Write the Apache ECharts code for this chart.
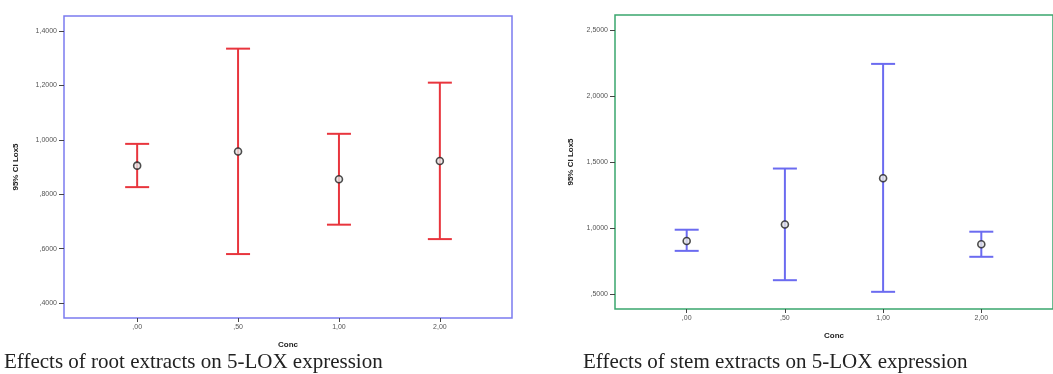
<!DOCTYPE html>
<html><head><meta charset="utf-8">
<script src="https://cdn.jsdelivr.net/npm/echarts@6/dist/echarts.min.js"></script>
<style>html,body{margin:0;padding:0;background:#fff}#c{width:1053px;height:374px}</style>
</head><body><div id="c"></div>
<script>
// ---- data ----
const catPositions = [0, 1, 2, 3];
const catLabels = [',00', ',50', '1,00', '2,00'];

const rootMean  = [0.905, 0.957, 0.855, 0.922];
const rootLower = [0.826, 0.580, 0.688, 0.635];
const rootUpper = [0.985, 1.335, 1.022, 1.210];

const stemMean  = [0.905, 1.030, 1.380, 0.880];
const stemLower = [0.830, 0.608, 0.520, 0.785];
const stemUpper = [0.990, 1.453, 2.245, 0.975];

const rootTickValues = [0.4, 0.6, 0.8, 1.0, 1.2, 1.4];
const rootTickLabels = [',4000', ',6000', ',8000', '1,0000', '1,2000', '1,4000'];
const stemTickValues = [0.5, 1.0, 1.5, 2.0, 2.5];
const stemTickLabels = [',5000', '1,0000', '1,5000', '2,0000', '2,5000'];

const yTitle = '95% CI Lox5';
const xTitle = 'Conc';
const rootCaption = 'Effects of root extracts on 5-LOX expression';
const stemCaption = 'Effects of stem extracts on 5-LOX expression';

// ---- chart ----
const chart = echarts.init(document.getElementById('c'), null, {renderer: 'canvas'});

function labelFrom(values, labels) {
  return function (v) {
    for (let i = 0; i < values.length; i++) if (Math.abs(values[i] - v) < 1e-6) return labels[i];
    return '';
  };
}

function errRender(color) {
  return function (params, api) {
    const x = api.value(0), lo = api.value(1), hi = api.value(2);
    const a = api.coord([x, lo]), b = api.coord([x, hi]);
    const hw = 12;
    const st = {stroke: color, lineWidth: 2};
    return {type: 'group', children: [
      {type: 'line', shape: {x1: a[0], y1: a[1], x2: b[0], y2: b[1]}, style: st},
      {type: 'line', shape: {x1: a[0] - hw, y1: a[1], x2: a[0] + hw, y2: a[1]}, style: st},
      {type: 'line', shape: {x1: b[0] - hw, y1: b[1], x2: b[0] + hw, y2: b[1]}, style: st}
    ]};
  };
}

const tickLabelStyle = {fontFamily: 'Arial, Liberation Sans, sans-serif', fontSize: 7, color: '#555'};
const nameStyle = {fontFamily: 'Arial, Liberation Sans, sans-serif', fontSize: 8, fontWeight: 'bold', color: '#222'};

function xAxisCfg(gi, min, max) {
  return {
    type: 'value', gridIndex: gi, min: min, max: max, position: 'bottom',
    splitLine: {show: false},
    axisLine: {show: false, onZero: false},
    axisTick: {show: true, length: 4, inside: false, customValues: catPositions, lineStyle: {color: '#444', width: 1}},
    axisLabel: Object.assign({margin: 6, customValues: catPositions, formatter: labelFrom(catPositions, catLabels)}, tickLabelStyle),
    name: xTitle, nameLocation: 'middle', nameGap: 23, nameTextStyle: nameStyle
  };
}
function yAxisCfg(gi, min, max, vals, labs, gap) {
  return {
    type: 'value', gridIndex: gi, min: min, max: max, position: 'left',
    splitLine: {show: false},
    axisLine: {show: false, onZero: false},
    axisTick: {show: true, length: 5, customValues: vals, lineStyle: {color: '#444', width: 1}},
    axisLabel: Object.assign({margin: 7, customValues: vals, formatter: labelFrom(vals, labs)}, tickLabelStyle),
    name: yTitle, nameLocation: 'middle', nameRotate: 90, nameGap: gap, nameTextStyle: nameStyle
  };
}

function triples(lo, hi) { return catPositions.map((x, i) => [x, lo[i], hi[i]]); }
function pairs(m) { return catPositions.map((x, i) => [x, m[i]]); }

chart.setOption({
  backgroundColor: '#ffffff',
  animation: false,
  grid: [
    {left: 64, top: 16, width: 448, height: 302, show: true, borderColor: '#7b7bef', borderWidth: 1.5, backgroundColor: '#ffffff'},
    {left: 615, top: 15, width: 451, height: 294, show: true, borderColor: '#3aa66e', borderWidth: 1.5, backgroundColor: '#ffffff'}
  ],
  xAxis: [xAxisCfg(0, -0.725, 3.715), xAxisCfg(1, -0.73, 3.73)],
  yAxis: [
    yAxisCfg(0, 0.345, 1.455, rootTickValues, rootTickLabels, 44),
    yAxisCfg(1, 0.39, 2.615, stemTickValues, stemTickLabels, 40)
  ],
  series: [
    {type: 'custom', xAxisIndex: 0, yAxisIndex: 0, renderItem: errRender('#e8353d'), encode: {x: 0, y: [1, 2]}, data: triples(rootLower, rootUpper), z: 2},
    {type: 'scatter', xAxisIndex: 0, yAxisIndex: 0, symbol: 'circle', symbolSize: 7, itemStyle: {color: '#e6e6e6', borderColor: '#222', borderWidth: 1.6}, data: pairs(rootMean), z: 3},
    {type: 'custom', xAxisIndex: 1, yAxisIndex: 1, renderItem: errRender('#6b6bf0'), encode: {x: 0, y: [1, 2]}, data: triples(stemLower, stemUpper), z: 2},
    {type: 'scatter', xAxisIndex: 1, yAxisIndex: 1, symbol: 'circle', symbolSize: 7, itemStyle: {color: '#e6e6e6', borderColor: '#222', borderWidth: 1.6}, data: pairs(stemMean), z: 3}
  ],
  graphic: [
    {type: 'text', left: 4, top: 352, style: {text: rootCaption, font: '21px "Liberation Serif", "Times New Roman", serif', fill: '#222'}},
    {type: 'text', left: 583, top: 352, style: {text: stemCaption, font: '21px "Liberation Serif", "Times New Roman", serif', fill: '#222'}}
  ]
});
</script></body></html>
